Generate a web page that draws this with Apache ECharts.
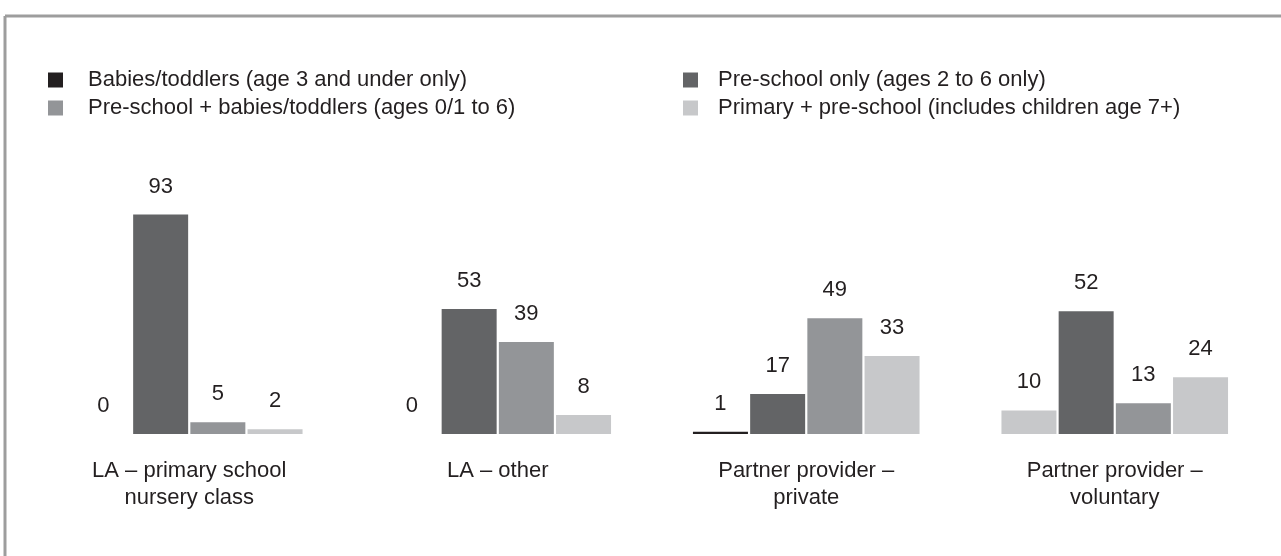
<!DOCTYPE html>
<html>
<head>
<meta charset="utf-8">
<script src="https://cdn.jsdelivr.net/npm/echarts@6/dist/echarts.min.js"></script>
<style>
html,body{margin:0;padding:0;background:#fff;}
#chart{width:1281px;height:556px;}
</style>
</head>
<body>
<div id="chart"></div>
<script>
var categories = ['LA – primary school\nnursery class', 'LA – other', 'Partner provider –\nprivate', 'Partner provider –\nvoluntary'];
var seriesNames = [
  'Babies/toddlers (age 3 and under only)',
  'Pre-school only (ages 2 to 6 only)',
  'Pre-school + babies/toddlers (ages 0/1 to 6)',
  'Primary + pre-school (includes children age 7+)'
];
var babiesToddlers = [0, 0, 1, 10];
var preSchoolOnly = [93, 53, 17, 52];
var preSchoolBabies = [5, 39, 49, 13];
var primaryPreSchool = [2, 8, 33, 24];

var colors = ['#231f20', '#636466', '#939598', '#c7c8ca'];
var FONT = '"Liberation Sans", Arial, sans-serif';
var FS = 22;
var seriesValues = [babiesToddlers, preSchoolOnly, preSchoolBabies, primaryPreSchool];

var chart = echarts.init(document.getElementById('chart'), null, {renderer: 'canvas'});

var series = seriesValues.map(function (vals, i) {
  return {
    name: seriesNames[i],
    type: 'bar',
    barWidth: 55,
    barGap: '4%',
    itemStyle: {color: colors[i]},
    label: {
      show: true,
      position: 'top',
      distance: 17,
      fontFamily: FONT,
      fontSize: FS,
      color: '#231f20'
    },
    data: vals.map(function (v, j) {
      // in the source, the first bar of the "voluntary" group is drawn in the light shade
      if (i === 0 && j === 3) return {value: v, itemStyle: {color: colors[3]}};
      return v;
    })
  };
});

function legendCfg(left, names, textPad) {
  return {
    left: left, top: 69, orient: 'vertical', padding: 0,
    itemWidth: 15, itemHeight: 15, itemGap: 6,
    icon: 'rect',
    textStyle: {fontFamily: FONT, fontSize: FS, color: '#231f20', padding: [0, 0, 0, textPad]},
    data: names,
    selectedMode: false
  };
}

chart.setOption({
  animation: false,
  backgroundColor: '#fff',
  graphic: [
    {type: 'line', shape: {x1: 5, y1: 16, x2: 1281, y2: 16}, style: {stroke: '#9d9d9d', lineWidth: 3}},
    {type: 'line', shape: {x1: 5, y1: 16, x2: 5, y2: 556}, style: {stroke: '#9d9d9d', lineWidth: 3}}
  ],
  legend: [
    legendCfg(48, [seriesNames[0], seriesNames[2]], 20),
    legendCfg(683, [seriesNames[1], seriesNames[3]], 15)
  ],
  grid: {left: 35, right: 12, top: 198, bottom: 122, containLabel: false},
  xAxis: {
    type: 'category',
    data: categories,
    axisLine: {show: false},
    axisTick: {show: false},
    axisLabel: {
      fontFamily: FONT, fontSize: FS, color: '#231f20',
      margin: 23, lineHeight: 27, interval: 0
    }
  },
  yAxis: {
    type: 'value', min: 0, max: 100,
    show: false,
    splitLine: {show: false}
  },
  series: series
});
</script>
</body>
</html>
